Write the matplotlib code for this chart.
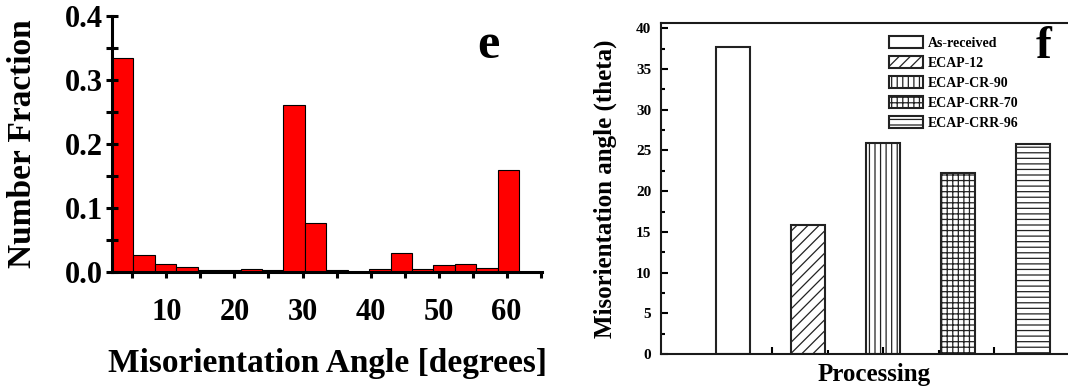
import numpy as np
import matplotlib
matplotlib.use('Agg')
import matplotlib.pyplot as plt
from matplotlib.ticker import MultipleLocator, FixedLocator, FormatStrFormatter, NullFormatter

plt.rcParams['font.family'] = 'Liberation Serif'
plt.rcParams['font.weight'] = 'bold'
plt.rcParams['axes.labelweight'] = 'bold'
plt.rcParams['hatch.linewidth'] = 0.9

# panel e: misorientation angle distribution (number fraction per bin)
bin_start = 2.0
bin_width = 3.15
fractions = [0.334, 0.027, 0.012, 0.008, 0.003, 0.003, 0.004, 0.003, 0.261, 0.077,
             0.003, 0.0, 0.004, 0.030, 0.004, 0.011, 0.012, 0.006, 0.159]
e_xticks = [10, 20, 30, 40, 50, 60]

# panel f: mean misorientation angle per processing route
processes = ['As-received', 'ECAP-12', 'ECAP-CR-90', 'ECAP-CRR-70', 'ECAP-CRR-96']
mis_angle = [37.7, 15.8, 25.9, 22.25, 25.8]
hatches = ['', '///', '|||', '+++', '---']

W, H = 1068, 389
fig = plt.figure(figsize=(W / 100, H / 100), dpi=100)

# ---- panel e ----
ax1 = fig.add_axes([112 / W, (H - 272) / H, 430 / W, 256 / H])
edges = bin_start + bin_width * np.arange(len(fractions))
ax1.bar(edges, fractions, width=bin_width, align='edge', color='#ff0000',
        edgecolor='black', linewidth=0.8, zorder=1)
ax1.set_xlim(2, 65.2)
ax1.set_ylim(0, 0.4)
for s in ['top', 'right']:
    ax1.spines[s].set_visible(False)
for s in ['left', 'bottom']:
    ax1.spines[s].set_linewidth(2.2)
ax1.xaxis.set_major_locator(FixedLocator(e_xticks))
ax1.xaxis.set_minor_locator(MultipleLocator(5))
ax1.yaxis.set_major_locator(MultipleLocator(0.1))
ax1.yaxis.set_minor_locator(MultipleLocator(0.05))
ax1.yaxis.set_major_formatter(FormatStrFormatter('%.1f'))
ax1.tick_params(axis='x', which='both', direction='out', length=4, width=2.2,
                labelsize=22, pad=15)
ax1.tick_params(axis='y', which='both', direction='inout', length=8, width=2.2,
                labelsize=22, pad=2.5)
ax1.set_xlabel('Misorientation Angle [degrees]', fontsize=24)
ax1.set_ylabel('Number Fraction', fontsize=24)
ax1.xaxis.set_label_coords(0.5, -0.297)
ax1.yaxis.set_label_coords(-0.172, 0.5)
fig.text(488 / W, 1 - 46 / H, 'e', fontsize=36, ha='center', va='center')

# ---- panel f ----
ax2 = fig.add_axes([661 / W, 35 / H, 414 / W, 331.3 / H])
xpos = np.arange(1, len(processes) + 1)
for xi, h, hat, lab in zip(xpos, mis_angle, hatches, processes):
    ax2.bar(xi, h, width=0.45, color='white', edgecolor='#222222',
            hatch=hat, linewidth=1.5, label=lab)
ax2.set_xlim(0.04, 5.56)
ax2.set_ylim(0, 40.7)
for s in ax2.spines.values():
    s.set_linewidth(1.5)
    s.set_color('#1a1a1a')
ax2.xaxis.set_major_locator(FixedLocator([1.525, 3.0, 4.475]))
ax2.xaxis.set_minor_locator(FixedLocator([2.26, 3.74]))
ax2.xaxis.set_major_formatter(NullFormatter())
ax2.yaxis.set_major_locator(MultipleLocator(5))
ax2.yaxis.set_minor_locator(MultipleLocator(2.5))
ax2.tick_params(which='major', direction='in', length=5, width=1.5, labelsize=11, pad=7)
ax2.tick_params(which='minor', direction='in', length=3, width=1.5)
ax2.set_xlabel('Processing', fontsize=18)
ax2.set_ylabel('Misorientation angle (theta)', fontsize=18)
ax2.xaxis.set_label_coords(0.516, -0.027)
ax2.yaxis.set_label_coords(-0.106, 0.5)
ax2.legend(loc='upper left', bbox_to_anchor=(0.551, 0.96), frameon=False, fontsize=10,
           borderpad=0, borderaxespad=0, handlelength=2.45, handleheight=0.94,
           labelspacing=0.45, handletextpad=0.35)
fig.text(1044 / W, 1 - 47 / H, 'f', fontsize=34, ha='center', va='center')

fig.savefig('out.png', dpi=100)
